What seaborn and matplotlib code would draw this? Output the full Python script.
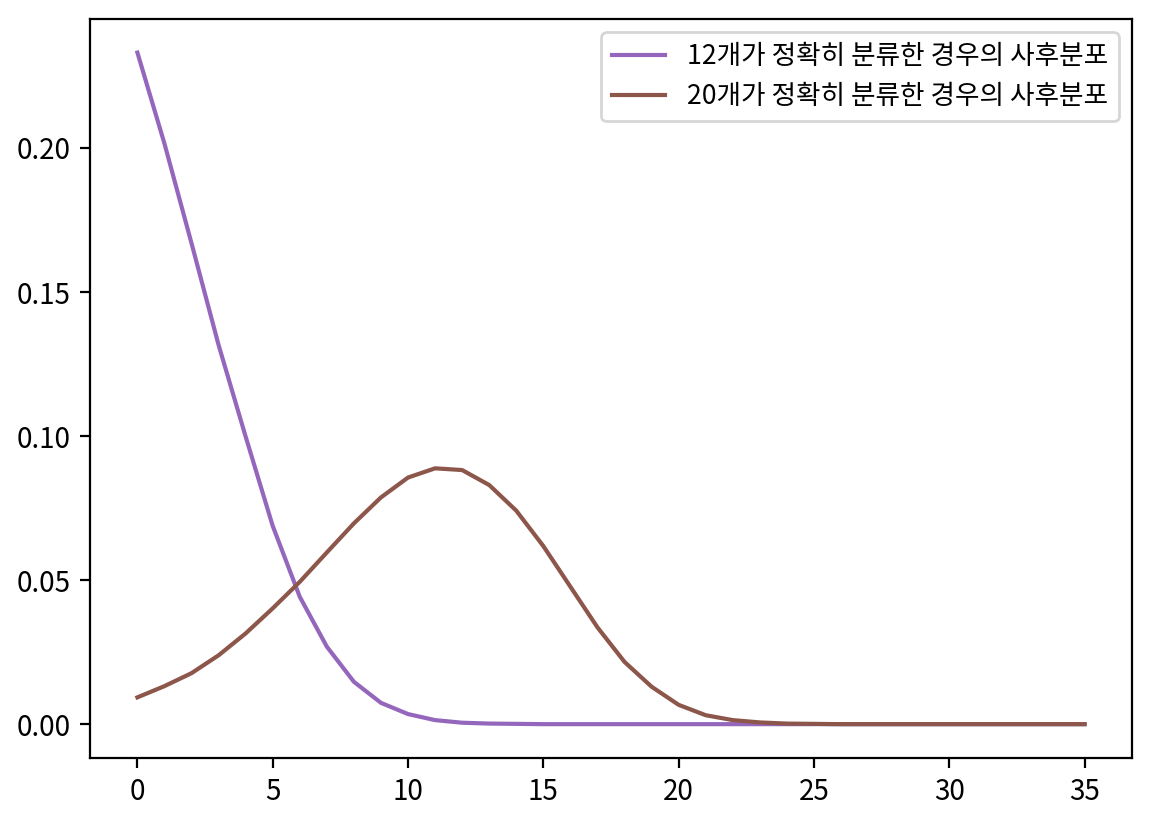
import matplotlib
matplotlib.use('Agg')
import matplotlib.pyplot as plt
import seaborn as sns
import numpy as np
import pandas as pd

# number of misclassified items (x) and posterior probabilities
k = list(range(36))
post_12 = [0.2331, 0.2015, 0.1669, 0.1316, 0.0998, 0.0688, 0.0442, 0.0269, 0.0147, 0.0074,
           0.0035, 0.0014, 0.0005, 0.0002, 0.0001, 0.0, 0.0, 0.0, 0.0, 0.0,
           0.0, 0.0, 0.0, 0.0, 0.0, 0.0, 0.0, 0.0, 0.0, 0.0,
           0.0, 0.0, 0.0, 0.0, 0.0, 0.0]
post_20 = [0.0093, 0.0132, 0.0177, 0.0239, 0.0315, 0.0402, 0.0494, 0.0596, 0.0697, 0.0787,
           0.0856, 0.0888, 0.0882, 0.0830, 0.0741, 0.0618, 0.0477, 0.0336, 0.0216, 0.0130,
           0.0067, 0.0031, 0.0014, 0.0006, 0.0002, 0.0001, 0.0, 0.0, 0.0, 0.0,
           0.0, 0.0, 0.0, 0.0, 0.0, 0.0]
labels = ['12개가 정확히 분류한 경우의 사후분포', '20개가 정확히 분류한 경우의 사후분포']

plt.rcParams['font.family'] = ['Noto Sans CJK KR', 'DejaVu Sans']

fig, ax = plt.subplots(figsize=(5.75, 4.115), dpi=200)
fig.subplots_adjust(left=0.0783, right=0.9843, top=0.9769, bottom=0.0793)

sns.lineplot(x=k, y=post_12, ax=ax, color='tab:purple', label=labels[0])
sns.lineplot(x=k, y=post_20, ax=ax, color='tab:brown', label=labels[1])

ax.set_xticks([0, 5, 10, 15, 20, 25, 30, 35])
ax.legend(loc='upper right', fontsize=9.6)

plt.savefig('out.png', dpi=200)
